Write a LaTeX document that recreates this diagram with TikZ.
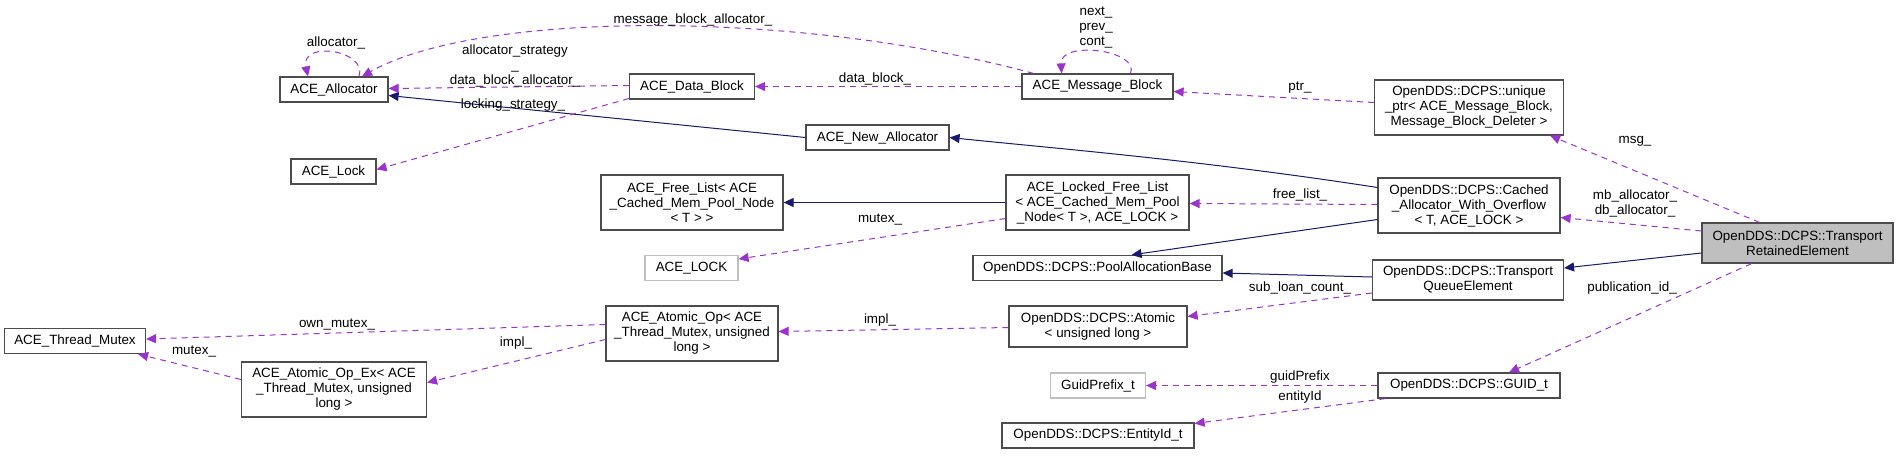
\documentclass[tikz,border=0pt]{standalone}
\usepackage{fontspec}
\setmainfont{Liberation Sans}
\usetikzlibrary{arrows.meta}
\definecolor{memb}{RGB}{154,50,205}
\definecolor{inher}{RGB}{25,25,112}
\tikzset{
  cls/.style={draw=black!70, line width=0.6pt, align=center, inner sep=0pt, minimum height=12.5pt, font=\fontsize{6.7}{7.5}\selectfont},
  clsgray/.style={cls, draw=black!25},
  lbl/.style={inner sep=0pt, align=center, font=\fontsize{6.7}{7.5}\selectfont},
  member/.style={draw=memb, line width=0.5pt, dash pattern=on 3pt off 2.5pt, -{Triangle[length=5pt,width=4.5pt,fill=memb]}},
  inherit/.style={draw=inher, line width=0.5pt, -{Triangle[length=5pt,width=4.5pt,fill=inher]}},
}
\begin{document}
\begin{tikzpicture}[x=0.5pt,y=-0.5pt]
  \useasboundingbox (0,0) rectangle (1899,455);
  % classes
  \node[cls, minimum width=54pt] (alloc) at (334,89.5) {ACE\_Allocator};
  \node[cls, minimum width=42.5pt] (lock) at (333.5,171.5) {ACE\_Lock};
  \node[cls, minimum width=70.5pt] (tmutex) at (75,341) {ACE\_Thread\_Mutex};
  \node[cls, minimum width=92.5pt, minimum height=27.5pt] (opex) at (334,389.5) {ACE\_Atomic\_Op\_Ex< ACE\\\_Thread\_Mutex, unsigned\\long >};
  \node[cls, minimum width=62.5pt] (dblock) at (692,86.5) {ACE\_Data\_Block};
  \node[cls, minimum width=91pt, minimum height=27.5pt] (flist) at (692,202.5) {ACE\_Free\_List< ACE\\\_Cached\_Mem\_Pool\_Node\\< T > >};
  \node[clsgray, minimum width=46.5pt] (LOCK) at (691.5,268) {ACE\_LOCK};
  \node[cls, minimum width=86pt, minimum height=27.5pt] (atomop) at (692,333.5) {ACE\_Atomic\_Op< ACE\\\_Thread\_Mutex, unsigned\\long >};
  \node[cls, minimum width=75.5pt] (mblock) at (1097.5,86.5) {ACE\_Message\_Block};
  \node[cls, minimum width=71.5pt] (newalloc) at (877.5,137.5) {ACE\_New\_Allocator};
  \node[cls, minimum width=91.5pt, minimum height=27.5pt] (lflist) at (1097.5,202.5) {ACE\_Locked\_Free\_List\\< ACE\_Cached\_Mem\_Pool\\\_Node< T >, ACE\_LOCK >};
  \node[cls, minimum width=124.5pt] (pool) at (1097.5,268) {OpenDDS::DCPS::PoolAllocationBase};
  \node[cls, minimum width=89pt, minimum height=20.5pt] (atomic) at (1098,326.5) {OpenDDS::DCPS::Atomic\\< unsigned long >};
  \node[clsgray, minimum width=47.5pt] (prefix) at (1098,385.5) {GuidPrefix\_t};
  \node[cls, minimum width=96pt] (entity) at (1098,435.5) {OpenDDS::DCPS::EntityId\_t};
  \node[cls, minimum width=94.5pt, minimum height=27.5pt] (uptr) at (1469,107.5) {OpenDDS::DCPS::unique\\\_ptr< ACE\_Message\_Block,\\Message\_Block\_Deleter >};
  \node[cls, minimum width=91pt, minimum height=27.5pt] (cached) at (1469,205.5) {OpenDDS::DCPS::Cached\\\_Allocator\_With\_Overflow\\< T, ACE\_LOCK >};
  \node[cls, minimum width=95.5pt, minimum height=20pt] (tqe) at (1468,280) {OpenDDS::DCPS::Transport\\QueueElement};
  \node[cls, minimum width=91pt] (guid) at (1469,385.5) {OpenDDS::DCPS::GUID\_t};
  \node[cls, fill=black!25, minimum width=95.5pt, minimum height=20pt] (tre) at (1797.5,243) {OpenDDS::DCPS::Transport\\RetainedElement};
  % inheritance
  \draw[inherit] (newalloc.west) -- ([yshift=-3pt]alloc.east);
  \draw[inherit] ([yshift=9pt]cached.west) .. controls (1200,160) and (1050,148) .. (newalloc.east);
  \draw[inherit] (lflist.west) -- (flist.east);
  \draw[inherit] ([yshift=-7pt]cached.west) -- ([xshift=17pt]pool.north);
  \draw[inherit] ([yshift=1.5pt]tqe.west) -- ([yshift=-2.5pt]pool.east);
  \draw[inherit] ([yshift=-5pt]tre.west) -- ([yshift=6pt]tqe.east);
  % members
  \draw[member] ([xshift=12.5pt]alloc.north) .. controls (368,50) and (300,40) .. ([xshift=-13pt]alloc.north);
  \node[lbl] (l-alloc) at (336,43) {allocator\_};
  \draw[member] ([xshift=-32pt]mblock.north) .. controls (800,10) and (480,10) .. ([xshift=14pt]alloc.north);
  \node[lbl] (l-mballoc) at (693,20) {message\_block\_allocator\_};
  \draw[member] ([xshift=16.5pt]mblock.north) .. controls (1140,50) and (1060,40) .. ([xshift=-18pt]mblock.north);
  \node[lbl] (l-next) at (1096,27) {next\_\\prev\_\\cont\_};
  \draw[member] ([yshift=0.5pt]dblock.west) -- ([yshift=0.5pt]alloc.east);
  \node[lbl] (l-dballoc) at (515,66) {allocator\_strategy\\\_\\data\_block\_allocator\_};
  \draw[member] ([yshift=-6pt]dblock.west) -- ([yshift=1pt]lock.east);
  \node[lbl] (l-locking) at (513,105) {locking\_strategy\_};
  \draw[member] (mblock.west) -- (dblock.east);
  \node[lbl] (l-dblock) at (875,79) {data\_block\_};
  \draw[member] ([yshift=2.5pt]uptr.west) -- ([yshift=-2.5pt]mblock.east);
  \node[lbl] (l-ptr) at (1300,88) {ptr\_};
  \draw[member] ([yshift=0.5pt]cached.west) -- ([yshift=-0.5pt]lflist.east);
  \node[lbl] (l-free) at (1300,195) {free\_list\_};
  \draw[member] ([yshift=-8pt]lflist.west) -- ([yshift=4.5pt]LOCK.east);
  \node[lbl] (l-mutex) at (880,219) {mutex\_};
  \draw[member] ([yshift=-6.5pt]tqe.west) -- ([yshift=5pt]atomic.east);
  \node[lbl] (l-subloan) at (1300,288) {sub\_loan\_count\_};
  \draw[member] ([yshift=-0.5pt]atomic.west) -- ([yshift=1pt]atomop.east);
  \node[lbl] (l-impl) at (880,320) {impl\_};
  \draw[member] ([yshift=4.5pt]atomop.west) -- ([yshift=1pt]tmutex.east);
  \node[lbl] (l-own) at (337,324) {own\_mutex\_};
  \draw[member] ([yshift=-3pt]atomop.west) -- ([yshift=3.5pt]opex.east);
  \node[lbl] (l-impl2) at (516,343) {impl\_};
  \draw[member] ([yshift=5pt]opex.west) -- ([xshift=-4pt]tmutex.south east);
  \node[lbl] (l-mutex2) at (194,351) {mutex\_};
  \draw[member] (guid.west) -- (prefix.east);
  \node[lbl] (l-prefix) at (1300,377) {guidPrefix};
  \draw[member] ([xshift=4pt]guid.south west) -- ([yshift=6pt]entity.east);
  \node[lbl] (l-entity) at (1300,397) {entityId};
  \draw[member] ([xshift=-19pt]tre.north) -- ([xshift=-7pt]uptr.south east);
  \node[lbl] (l-msg) at (1635,141) {msg\_};
  \draw[member] ([yshift=6pt]tre.west) -- ([yshift=-6pt]cached.east);
  \node[lbl] (l-mbdb) at (1635,203) {mb\_allocator\_\\db\_allocator\_};
  \draw[member] ([xshift=-23pt]tre.south) -- ([xshift=20pt]guid.north);
  \node[lbl] (l-pub) at (1632,288) {publication\_id\_};
\end{tikzpicture}
\end{document}
